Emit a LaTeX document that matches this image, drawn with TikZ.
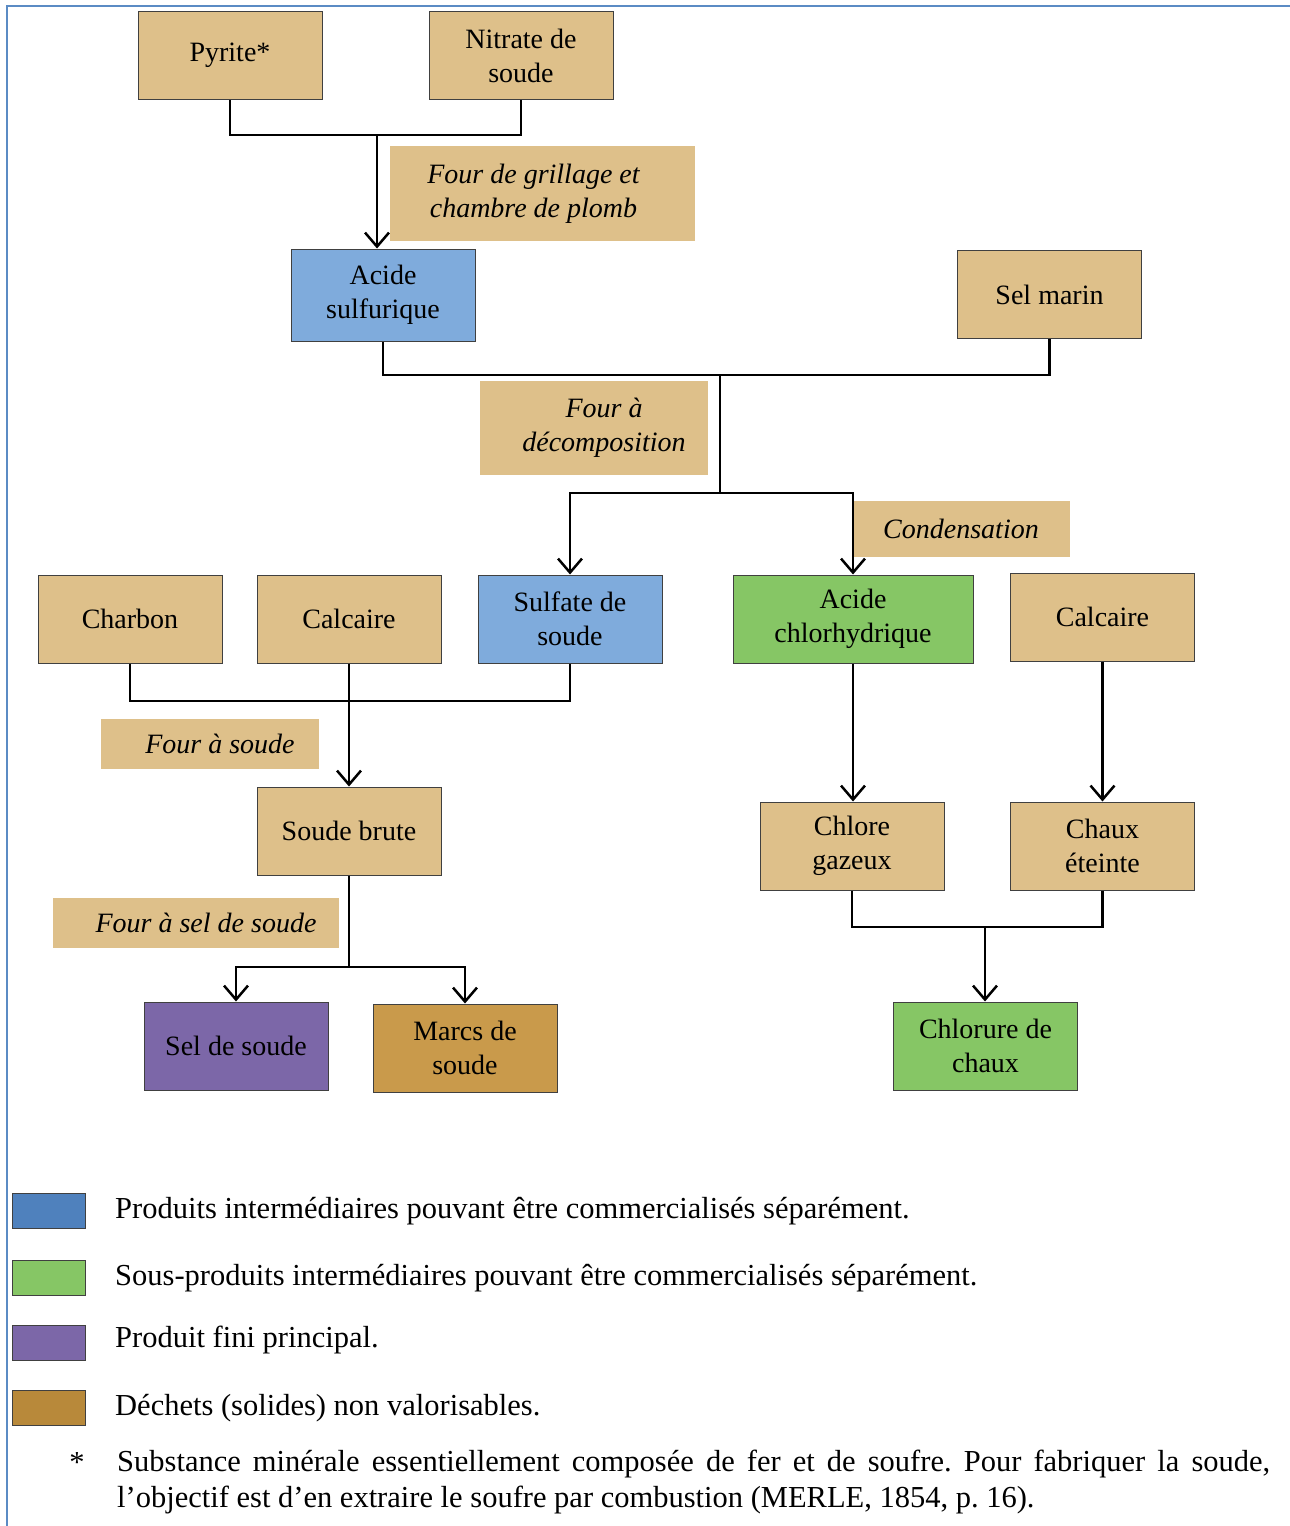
\documentclass[tikz,border=0pt]{standalone}
\usepackage{fontspec}
\setmainfont{Liberation Serif}
\usepackage{tikz}
\usetikzlibrary{arrows.meta,positioning}
\definecolor{rawtan}{HTML}{DEC08A}
\definecolor{interblue}{HTML}{7FABDC}
\definecolor{bygreen}{HTML}{86C665}
\definecolor{finalpurple}{HTML}{7C67A8}
\definecolor{wastebrown}{HTML}{C99A4B}
\definecolor{keyblue}{HTML}{4F81BD}
\definecolor{keybrown}{HTML}{B8893A}
\definecolor{frameblue}{HTML}{5B8BC4}

\begin{document}
\frenchspacing
\begin{tikzpicture}[x=1pt, y=-1pt,
    every node/.style={font=\fontsize{28}{34}\selectfont, align=center, inner sep=0pt},
    box/.style={draw=black!75, line width=1pt, minimum width=184pt, minimum height=88pt},
    raw/.style={box, fill=rawtan},
    inter/.style={box, fill=interblue},
    byprod/.style={box, fill=bygreen},
    final/.style={box, fill=finalpurple},
    waste/.style={box, fill=wastebrown},
    process/.style={fill=rawtan, font=\fontsize{28}{34}\selectfont\itshape},
    link/.style={line width=2.5pt},
    flow/.style={link, -{Straight Barb[length=14pt,width=24pt,line width=2.5pt]}},
    keybox/.style={draw=black!75, line width=1pt, minimum width=73pt, minimum height=35pt},
    keytext/.style={anchor=west, font=\fontsize{30.5}{36}\selectfont}]
    \useasboundingbox (0,0) rectangle (1290,1526);
    \draw[draw=frameblue, line width=2pt] (1290,6) -- (7,6) -- (7,1526);

    \node[raw] (pyrite) at (230,55.5) {Pyrite*};
    \node[raw] (nitrate) at (521,55.5) {Nitrate de\\soude};
    \node[process, minimum width=305pt, minimum height=95pt] (grillage) at (542.5,193.5) {Four de grillage et\hspace*{18pt}\\chambre de plomb\hspace*{18pt}};
    \node[inter, minimum height=92pt] (sulfurique) at (383,295) {Acide\\sulfurique};
    \node[raw] (selmarin) at (1049.5,294.5) {Sel marin};
    \node[process, minimum width=228pt, minimum height=94pt] (decomp) at (594,428) {\hspace*{20pt}Four à\\\hspace*{20pt}décomposition};
    \node[process, minimum width=218pt, minimum height=56pt] (condens) at (961,529) {Condensation};

    \node[raw] (charbon) at (130,619) {Charbon};
    \node[raw] (calcaire) at (349,619) {Calcaire};
    \node[inter] (sulfate) at (570,619) {Sulfate de\\soude};
    \node[byprod, minimum width=240pt] (chlorhyd) at (853,619) {Acide\\chlorhydrique};
    \node[raw] (calcaireb) at (1102.5,617) {Calcaire};

    \node[process, minimum width=218pt, minimum height=50pt] (foursoude) at (210,744) {\hspace*{20pt}Four à soude};
    \node[raw] (brute) at (349,831) {Soude brute};
    \node[process, minimum width=286pt, minimum height=50pt] (foursel) at (196,923) {\hspace*{20pt}Four à sel de soude};
    \node[final] (selsoude) at (236,1046) {Sel de soude};
    \node[waste] (marcs) at (465,1048) {Marcs de\\soude};

    \node[raw] (chlore) at (852,846) {Chlore\\gazeux};
    \node[raw] (chaux) at (1102.5,846) {Chaux\\éteinte};
    \node[byprod] (chlorure) at (985.5,1046) {Chlorure de\\chaux};

    \coordinate (j1) at (377,135);
    \coordinate (j2) at (720,375);
    \coordinate (j3) at (720,493);
    \coordinate (j4) at (349,701);
    \coordinate (j5) at (349,967);
    \coordinate (j6) at (985,927);

    \draw[link] (pyrite.south) |- (j1) -| (nitrate.south);
    \draw[flow] (j1) -- (j1 |- sulfurique.north);
    \draw[link] (sulfurique.south) |- (j2) -| (selmarin.south);
    \draw[link] (j2) -- (j3);
    \draw[flow] (j3) -| (sulfate.north);
    \draw[flow] (j3) -| (chlorhyd.north);
    \draw[link] (charbon.south) |- (j4) -| (sulfate.south);
    \draw[flow] (calcaire.south) -- (brute.north);
    \draw[link] (brute.south) -- (j5);
    \draw[flow] (j5) -| (selsoude.north);
    \draw[flow] (j5) -| (marcs.north);
    \draw[flow] (chlorhyd.south) -- (chlorhyd.south |- chlore.north);
    \draw[flow] (calcaireb.south) -- (chaux.north);
    \draw[link] (chlore.south) |- (j6) -| (chaux.south);
    \draw[flow] (j6) -- (j6 |- chlorure.north);

    \node[keybox, fill=keyblue] (kblue) at (48.5,1210.5) {};
    \node[keytext] (tblue) at (115,1211) {Produits intermédiaires pouvant être commercialisés séparément.};
    \node[keybox, fill=bygreen] (kgreen) at (48.5,1277.5) {};
    \node[keytext] (tgreen) at (115,1278) {Sous-produits intermédiaires pouvant être commercialisés séparément.};
    \node[keybox, fill=finalpurple] (kpurple) at (48.5,1342.5) {};
    \node[keytext] (tpurple) at (115,1340) {Produit fini principal.};
    \node[keybox, fill=keybrown] (kbrown) at (48.5,1407.5) {};
    \node[keytext] (tbrown) at (115,1408) {Déchets (solides) non valorisables.};

    \node[font=\fontsize{30.5}{36}\selectfont] (star) at (77,1462) {*};
    \node[anchor=north west, text width=1153pt, align=justify, font=\fontsize{30.5}{36}\selectfont] (note) at (117,1450)
        {Substance minérale essentiellement composée de fer et de soufre. Pour fabriquer la soude,\linebreak l’objectif est d’en extraire le soufre par combustion (MERLE, 1854, p.~16).};
\end{tikzpicture}
\end{document}
